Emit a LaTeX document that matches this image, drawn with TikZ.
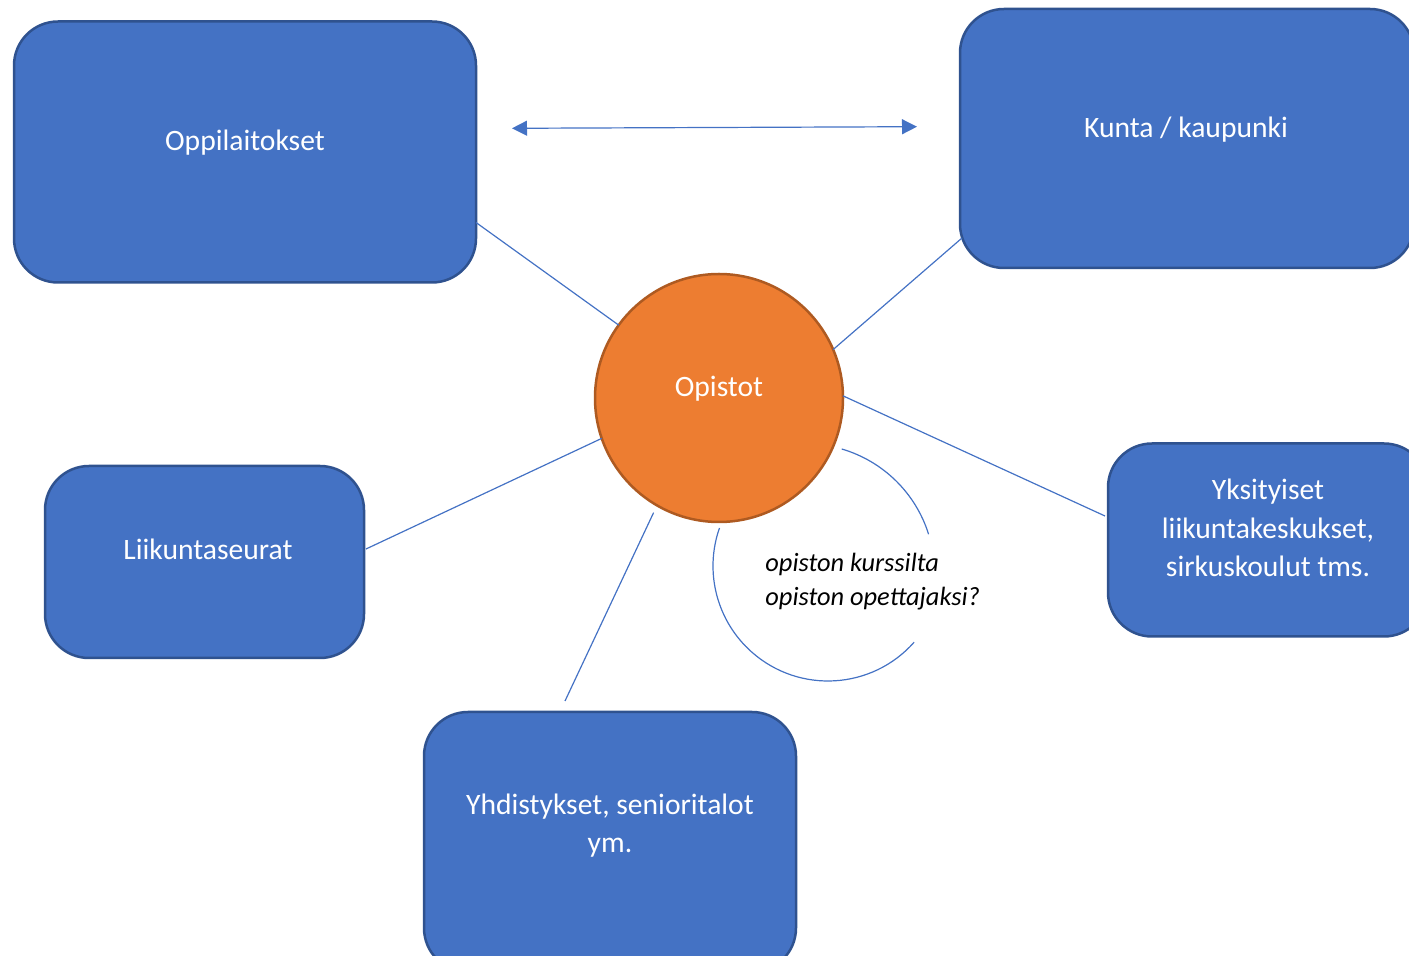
\documentclass[tikz,border=0pt]{standalone}
\usepackage{fontspec}
\setmainfont{Carlito}
\usetikzlibrary{calc,arrows.meta}
\definecolor{boxblue}{HTML}{4472C4}
\definecolor{boxedge}{HTML}{2F528F}
\definecolor{orangefill}{HTML}{ED7D31}
\definecolor{orangeedge}{HTML}{AE5A21}
\definecolor{linkblue}{HTML}{4472C4}
\tikzset{
  bluebox/.style={draw=boxedge, fill=boxblue, line width=1.25pt, rounded corners=22pt, inner sep=0pt, outer sep=0pt},
  boxtext/.style={text=white, font=\fontsize{14.8pt}{19.25pt}\selectfont, anchor=base, align=center, inner sep=0pt},
  hubnode/.style={circle, draw=orangeedge, fill=orangefill, line width=1.25pt, minimum size=124pt, inner sep=0pt, outer sep=0pt},
  link/.style={draw=linkblue, line width=0.6pt},
  noteline/.style={draw=linkblue, line width=0.6pt},
  notetext/.style={font=\fontsize{13.2pt}{17.15pt}\selectfont\itshape, anchor=base west, align=left, inner sep=0pt}
}
\begin{document}
\begin{tikzpicture}[x=0.5pt,y=-0.5pt]
\useasboundingbox (0,0) rectangle (1409,956);
\clip (0,0) rectangle (1409,956);
% boxes
\node[bluebox, minimum width=231pt, minimum height=130.5pt] (opl) at (245,152) {};
\node[bluebox, minimum width=227pt, minimum height=129.5pt] (kun) at (1187,138.5) {};
\node[bluebox, minimum width=159.5pt, minimum height=96pt] (lik) at (204.5,562) {};
\node[bluebox, minimum width=160pt, minimum height=96.5pt] (yks) at (1268,540) {};
\node[bluebox, minimum width=186pt, minimum height=130pt] (yhd) at (610,842) {};
\node[hubnode] (c) at (719,398) {};
% texts (anchor = baseline of last line)
\node[boxtext] (oplT) at (245,150.7) {Oppilaitokset};
\node[boxtext] (kunT) at (1186,137.5) {Kunta / kaupunki};
\node[boxtext] (likT) at (208,560) {Liikuntaseurat};
\node[boxtext] (yksT) at (1268,577) {Yksityiset\\liikuntakeskukset,\\sirkuskoulut tms.};
\node[boxtext] (yhdT) at (610,852.7) {Yhdistykset, senioritalot\\ym.};
\node[boxtext] (cT) at (719,397) {Opistot};
% connectors
\draw[link] (c.144) -- ($(opl.south east)+(0,-60)$);
\draw[link] (c.23) -- ($(kun.south west)+(2,-30)$);
\draw[link] (c.1) -- ($(yks.west)+(-3,-24)$);
\draw[link] (c.199) -- ($(lik.east)+(2,-13)$);
\draw[link, shorten <=4pt] (c.240) -- ($(yhd.north)+(-45,-11)$);
% double arrow
\coordinate (aL) at (512,128.3);
\coordinate (aR) at (917,126.7);
\draw[link, {Triangle[length=7.5pt,width=7.5pt]}-{Triangle[length=7.5pt,width=7.5pt]}] (aL) -- (aR);
% note loop (open arc around the note)
\coordinate (upC) at (805.5,572.8);
\coordinate (loC) at (828,566);
\draw[noteline] (upC) ++(-73.7:129) arc[start angle=-73.7, end angle=-17.4, radius=129];
\draw[noteline] (loC) ++(41.5:115) arc[start angle=41.5, end angle=199.3, radius=115];
\node[notetext] (note) at (765,606) {opiston kurssilta\\opiston opettajaksi?};
\end{tikzpicture}
\end{document}
